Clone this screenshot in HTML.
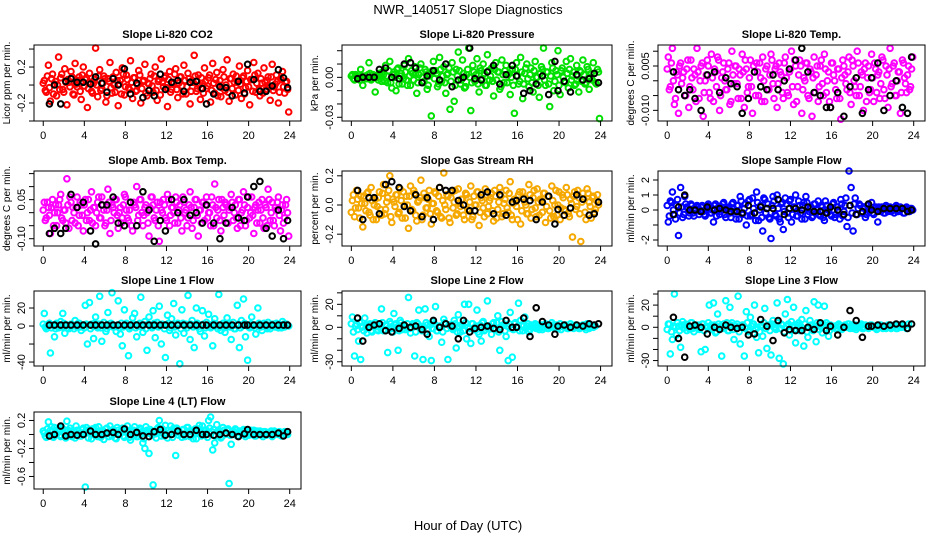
<!DOCTYPE html>
<html><head><meta charset="utf-8"><style>
body{margin:0;background:#fff}
svg{display:block}
text{font-family:"Liberation Sans",sans-serif}
</style></head><body>
<svg id="chart" width="936" height="540" viewBox="0 0 936 540" xmlns="http://www.w3.org/2000/svg">
<text x="468" y="14" text-anchor="middle" font-size="13">NWR_140517  Slope Diagnostics</text>
<text x="468" y="530" text-anchor="middle" font-size="13">Hour of Day (UTC)</text>
</svg>
<script>
const hours = [0.1,0.3,0.5,0.7,0.9,1.1,1.3,1.5,1.7,1.9,2.1,2.3,2.5,2.7,2.9,3.1,3.3,3.5,3.7,3.9,4.1,4.3,4.5,4.7,4.9,5.1,5.3,5.5,5.7,5.9,6.1,6.3,6.5,6.7,6.9,7.1,7.3,7.5,7.7,7.9,8.1,8.3,8.5,8.7,8.9,9.1,9.3,9.5,9.7,9.9,10.1,10.3,10.5,10.7,10.9,11.1,11.3,11.5,11.7,11.9,12.1,12.3,12.5,12.7,12.9,13.1,13.3,13.5,13.7,13.9,14.1,14.3,14.5,14.7,14.9,15.1,15.3,15.5,15.7,15.9,16.1,16.3,16.5,16.7,16.9,17.1,17.3,17.5,17.7,17.9,18.1,18.3,18.5,18.7,18.9,19.1,19.3,19.5,19.7,19.9,20.1,20.3,20.5,20.7,20.9,21.1,21.3,21.5,21.7,21.9,22.1,22.3,22.5,22.7,22.9,23.1,23.3,23.5,23.7,23.9];
const hours2 = [0.0,0.2,0.4,0.6,0.8,1.0,1.2,1.4,1.6,1.8,2.0,2.2,2.4,2.6,2.8,3.0,3.2,3.4,3.6,3.8,4.0,4.2,4.4,4.6,4.8,5.0,5.2,5.4,5.6,5.8,6.0,6.2,6.4,6.6,6.8,7.0,7.2,7.4,7.6,7.8,8.0,8.2,8.4,8.6,8.8,9.0,9.2,9.4,9.6,9.8,10.0,10.2,10.4,10.6,10.8,11.0,11.2,11.4,11.6,11.8,12.0,12.2,12.4,12.6,12.8,13.0,13.2,13.4,13.6,13.8,14.0,14.2,14.4,14.6,14.8,15.0,15.2,15.4,15.6,15.8,16.0,16.2,16.4,16.6,16.8,17.0,17.2,17.4,17.6,17.8,18.0,18.2,18.4,18.6,18.8,19.0,19.2,19.4,19.6,19.8,20.0,20.2,20.4,20.6,20.8,21.0,21.2,21.4,21.6,21.8,22.0,22.2,22.4,22.6,22.8,23.0,23.2,23.4,23.6,23.8];
const blackHours = [0.6,1.1,1.7,2.2,2.7,3.3,3.9,4.6,5.1,5.7,6.2,6.8,7.3,7.9,8.5,9.1,9.7,10.3,10.8,11.4,11.9,12.5,13.1,13.7,14.3,14.9,15.5,15.9,16.6,17.2,17.8,18.4,19.0,19.6,19.9,20.5,21.1,21.7,22.3,22.9,23.4,23.8];
const xTicks = [0,4,8,12,16,20,24];

const co2 = [0.05,-0.08,0.22,-0.18,0.12,0.01,-0.12,0.31,0.08,-0.05,0.18,-0.22,0.03,0.15,-0.1,0.24,-0.02,0.09,-0.16,0.2,0.06,-0.25,0.13,-0.07,0.02,0.41,-0.13,0.17,-0.04,0.1,-0.19,0.07,0.25,-0.09,0.0,0.14,-0.23,0.05,0.19,-0.11,0.11,-0.03,0.27,-0.15,0.08,-0.06,0.16,-0.2,0.04,0.23,-0.12,0.01,0.12,-0.08,0.2,-0.17,0.06,0.29,-0.02,0.1,-0.24,0.15,-0.05,0.03,0.18,-0.14,0.09,-0.01,0.22,-0.1,0.13,-0.21,0.05,0.33,-0.07,0.11,-0.16,0.02,0.19,-0.04,0.08,-0.19,0.24,-0.09,0.14,0.0,-0.13,0.17,-0.06,0.28,-0.18,0.07,0.12,-0.11,0.03,0.21,-0.15,0.1,-0.03,0.16,-0.22,0.06,0.25,-0.08,0.13,-0.12,0.02,0.19,-0.05,0.09,-0.17,0.23,-0.02,0.11,-0.2,0.07,0.15,-0.09,0.04,-0.3];
const co2Core = [0.02,-0.06,0.1,-0.03,0.07,-0.1,0.04,0.0,-0.05,0.12,-0.08,0.03,0.06,-0.02,0.09,-0.11,0.01,0.05,-0.07,0.11,-0.01,0.08,-0.04,0.03,-0.09,0.06,0.0,0.1,-0.06,0.02,0.07,-0.12,0.04,-0.03,0.09,-0.08,0.05,0.01,-0.1,0.12,-0.02,0.06,-0.05,0.03,0.08,-0.07,0.0,0.11,-0.04,0.05,-0.09,0.02,0.07,-0.01,0.1,-0.06,0.04,-0.11,0.03,0.08,-0.03,0.06,-0.08,0.01,0.12,-0.05,0.02,0.09,-0.1,0.05,-0.02,0.07,-0.07,0.03,0.1,-0.04,0.0,0.08,-0.09,0.04,-0.01,0.11,-0.06,0.02,0.06,-0.12,0.05,-0.03,0.09,0.0,-0.08,0.07,-0.04,0.03,0.1,-0.06,0.01,0.08,-0.1,0.04,-0.02,0.06,-0.07,0.11,0.02,-0.05,0.07,-0.09,0.03,0.05,-0.03,0.09,-0.06,0.01,0.04,-0.08,0.06,-0.02,0.03,-0.05];
const co2Black = [-0.21,0.0,-0.21,0.04,0.07,0.03,0.03,0.01,0.09,0.02,-0.08,0.07,0.0,0.18,-0.1,0.02,-0.14,-0.06,-0.12,0.12,-0.05,0.03,0.05,-0.07,0.03,0.04,-0.04,-0.21,-0.1,-0.02,-0.03,-0.12,0.04,-0.09,0.23,0.06,-0.07,-0.07,-0.01,0.17,0.08,-0.03];
const pres = [0.002,-0.002,0.001,0.000,0.006,-0.006,0.001,-0.001,0.011,-0.002,0.002,-0.011,0.0,0.003,-0.003,0.002,0.009,-0.004,0.012,-0.008,0.004,-0.01,0.007,0.001,-0.005,0.009,-0.002,0.014,-0.006,0.003,0.008,-0.012,0.002,0.01,-0.004,0.006,-0.009,0.001,-0.029,0.012,0.005,-0.007,0.015,-0.003,0.008,-0.012,0.003,-0.024,0.011,-0.018,0.006,0.019,-0.005,0.013,-0.008,0.002,0.022,-0.025,0.009,-0.003,0.014,-0.011,0.005,0.01,-0.006,0.017,-0.002,0.007,-0.014,0.011,0.004,-0.009,0.013,-0.004,0.009,0.002,-0.013,0.006,-0.027,0.011,-0.005,0.015,-0.016,0.003,0.01,-0.007,0.007,-0.011,0.012,0.0,-0.015,0.008,0.022,-0.006,0.004,-0.022,0.011,-0.01,0.005,0.02,-0.013,0.007,-0.003,0.012,-0.008,0.014,0.001,-0.006,0.009,-0.011,0.004,0.013,-0.005,0.008,-0.009,0.003,0.011,-0.004,0.006,-0.031];
const presCore = [0.001,-0.001,0.002,0.0,-0.002,0.001,0.0,-0.001,0.002,0.003,-0.001,0.0,0.001,-0.002,0.002,0.004,-0.003,0.001,0.005,-0.004,0.002,0.0,0.006,-0.005,0.003,-0.001,0.004,-0.006,0.001,0.005,-0.002,0.003,-0.004,0.007,0.0,-0.003,0.004,-0.006,0.002,0.005,-0.001,0.003,-0.005,0.006,0.001,-0.004,0.002,0.007,-0.003,0.004,-0.006,0.001,0.005,-0.002,0.003,-0.007,0.006,0.0,-0.004,0.004,0.002,-0.005,0.007,-0.001,0.003,-0.006,0.005,0.001,-0.003,0.006,-0.002,0.004,-0.007,0.002,0.005,-0.004,0.003,0.0,-0.006,0.006,0.001,-0.003,0.004,-0.005,0.007,-0.001,0.002,-0.004,0.005,0.0,-0.006,0.003,0.006,-0.002,0.004,-0.005,0.001,0.007,-0.003,0.002,-0.006,0.005,0.0,-0.004,0.003,0.006,-0.002,0.004,-0.005,0.001,0.005,-0.003,0.002,-0.004,0.006,0.0,-0.002,0.003,-0.005,0.004];
const presBlack = [-0.001,0.0,0.0,0.0,0.006,0.007,0.0,-0.001,0.01,0.011,0.007,-0.004,0.001,0.005,-0.002,0.01,-0.007,-0.002,0.0,0.022,-0.001,-0.002,0.004,0.009,-0.005,0.002,0.009,0.001,-0.012,-0.01,-0.005,0.001,-0.013,0.012,-0.01,-0.003,-0.011,0.002,-0.002,-0.001,0.003,-0.004];
const ltemp = [0.008,-0.002,0.011,-0.008,0.003,-0.011,0.006,0.001,-0.005,0.004,-0.009,0.007,-0.003,0.002,0.011,-0.006,0.005,-0.012,0.0,0.007,-0.004,0.009,-0.007,0.003,0.008,-0.01,0.001,0.006,-0.003,0.004,-0.008,0.01,-0.001,0.005,-0.006,0.002,0.009,-0.009,0.004,-0.002,0.007,-0.011,0.003,0.006,-0.005,0.001,0.008,-0.007,0.005,-0.003,0.009,-0.001,0.004,-0.009,0.006,0.002,-0.006,0.008,-0.004,0.003,0.01,-0.008,0.005,-0.002,0.007,-0.011,0.001,0.006,-0.005,0.004,-0.012,0.008,0.002,-0.007,0.005,-0.001,0.009,-0.004,0.003,-0.009,0.006,0.0,-0.006,0.004,-0.013,0.007,0.002,-0.003,0.008,-0.008,0.005,-0.002,0.01,-0.005,0.003,-0.01,0.006,0.001,-0.004,0.009,-0.007,0.004,0.002,-0.006,0.008,-0.003,0.005,-0.009,0.011,-0.001,0.006,-0.005,0.003,-0.011,0.007,0.001,-0.004,0.005,-0.002,0.008];
const ltempCore = [0.004,-0.003,0.006,0.0,-0.006,0.002,0.005,-0.001,0.003,-0.005,0.007,-0.002,0.001,0.004,-0.007,0.003,0.0,0.006,-0.004,0.002,0.005,-0.006,0.001,0.004,-0.002,0.007,-0.005,0.003,0.0,-0.003,0.006,-0.007,0.002,0.005,-0.001,0.004,-0.006,0.003,0.007,-0.004,0.001,-0.002,0.005,-0.005,0.003,0.006,-0.007,0.0,0.004,-0.003,0.002,0.007,-0.006,0.005,-0.001,0.003,-0.004,0.006,0.001,-0.005,0.004,-0.002,0.007,-0.007,0.002,0.005,-0.003,0.0,0.006,-0.006,0.003,0.001,-0.004,0.005,-0.002,0.007,-0.005,0.004,0.0,-0.007,0.006,0.002,-0.003,0.004,-0.006,0.001,0.005,-0.001,0.003,-0.004,0.007,0.0,-0.005,0.006,-0.002,0.002,0.004,-0.007,0.005,-0.003,0.001,0.006,-0.004,0.003,-0.001,0.007,-0.006,0.002,0.004,-0.002,0.005,-0.005,0.0,0.003,-0.004,0.006,-0.001,0.002,-0.003,0.004];
const ltempBlack = [0.003,-0.003,-0.005,-0.003,-0.006,-0.01,0.002,0.003,-0.004,0.001,-0.001,-0.002,-0.011,-0.006,0.003,-0.002,-0.003,0.002,-0.003,0.0,0.004,0.007,0.011,0.003,-0.004,-0.005,-0.009,-0.009,-0.004,-0.012,-0.002,0.001,-0.011,-0.003,0.001,0.006,-0.010,-0.005,0.0,-0.009,-0.011,0.008];
const amb = [0.04,-0.02,0.02,-0.08,0.05,0.0,-0.05,0.03,0.07,-0.03,0.01,0.13,-0.06,0.04,0.02,-0.04,0.06,-0.01,0.03,-0.07,0.05,0.0,-0.03,0.08,0.02,-0.05,0.04,-0.02,0.06,0.01,-0.04,0.09,-0.08,0.03,0.0,0.05,-0.06,0.02,-0.02,0.07,0.01,-0.03,0.04,-0.07,0.03,0.1,-0.01,0.05,-0.05,0.02,0.0,-0.09,0.06,0.03,-0.03,0.04,-0.11,0.01,0.05,-0.02,0.07,-0.05,0.02,0.0,0.06,-0.04,0.03,-0.07,0.04,0.01,-0.02,0.08,-0.06,0.02,0.05,-0.09,0.01,0.04,-0.03,0.06,0.0,-0.05,0.03,0.11,-0.02,0.05,-0.07,0.02,0.04,-0.04,0.01,0.07,-0.03,0.03,-0.06,0.05,0.0,0.08,-0.05,0.02,-0.02,0.06,-0.08,0.03,0.01,-0.04,0.05,-0.06,0.02,0.09,-0.03,0.04,-0.05,0.01,0.06,-0.07,0.03,-0.02,0.05,-0.09];
const ambCore = [0.01,-0.03,0.04,-0.01,0.02,-0.05,0.03,0.0,0.05,-0.02,0.01,-0.04,0.03,0.06,-0.03,0.0,0.02,-0.05,0.04,-0.01,0.03,-0.03,0.05,0.01,-0.04,0.02,0.0,0.06,-0.02,0.03,-0.05,0.01,0.04,-0.03,0.02,0.05,-0.01,0.0,-0.04,0.03,0.06,-0.02,0.01,-0.05,0.04,0.02,-0.03,0.05,0.0,-0.01,0.03,-0.04,0.02,0.06,-0.02,0.01,-0.05,0.04,0.0,0.03,-0.03,0.05,-0.01,0.02,-0.04,0.04,0.01,-0.02,0.06,0.0,-0.05,0.03,0.02,-0.03,0.05,-0.01,0.01,-0.04,0.04,0.03,-0.02,0.0,0.06,-0.05,0.02,0.01,-0.03,0.05,-0.01,0.03,-0.04,0.02,0.04,0.0,-0.02,0.05,-0.05,0.01,0.03,-0.03,0.06,0.0,-0.01,0.02,-0.04,0.04,0.01,-0.02,0.03,-0.05,0.05,0.0,-0.03,0.02,0.04,-0.01,0.01,-0.04,0.03,0.0];
const ambBlack = [-0.08,-0.06,-0.08,-0.06,0.07,0.02,0.04,-0.07,-0.12,0.03,0.03,0.06,-0.04,-0.05,0.04,-0.05,0.08,0.01,-0.11,-0.03,-0.07,0.05,0.0,0.05,-0.01,0.0,-0.04,0.03,-0.04,-0.1,-0.04,0.02,-0.02,-0.03,0.06,0.1,0.12,-0.06,-0.09,0.01,-0.1,-0.03];
const rh = [0.03,-0.08,0.1,-0.02,0.06,-0.15,0.01,0.08,-0.05,0.12,-0.1,0.04,-0.01,0.09,-0.07,0.14,-0.03,0.05,0.2,-0.12,0.02,0.07,-0.06,0.11,-0.09,0.0,0.06,-0.16,0.13,-0.04,0.08,-0.11,0.03,0.17,-0.07,0.05,-0.02,0.1,-0.13,0.01,0.08,-0.05,0.12,-0.09,0.22,-0.03,0.06,-0.12,0.09,0.02,-0.07,0.11,-0.01,0.04,-0.1,0.07,-0.04,0.13,-0.08,0.0,0.09,-0.14,0.05,-0.02,0.11,-0.06,0.03,0.08,-0.11,0.06,-0.03,0.12,-0.08,0.01,0.1,-0.05,0.16,-0.1,0.04,-0.01,0.07,-0.13,0.09,0.02,-0.06,0.14,-0.09,0.05,-0.02,0.11,-0.07,0.03,0.08,-0.12,0.06,-0.04,0.13,-0.08,0.1,0.0,-0.1,0.07,-0.03,0.12,-0.06,0.04,-0.22,0.09,-0.01,0.05,-0.25,0.08,-0.05,0.11,0.02,-0.09,0.06,-0.03,0.07];
const rhCore = [-0.05,0.07,-0.02,0.04,-0.09,0.01,0.06,-0.04,0.09,-0.07,0.03,0.0,-0.1,0.05,-0.03,0.08,-0.06,0.02,0.1,-0.08,0.04,-0.01,0.07,-0.05,0.03,0.09,-0.09,0.0,0.06,-0.03,0.1,-0.07,0.02,0.05,-0.1,0.08,-0.02,0.04,-0.06,0.01,0.09,-0.04,0.06,-0.08,0.03,0.0,0.07,-0.09,0.05,-0.02,0.1,-0.06,0.01,0.04,-0.07,0.08,-0.03,0.02,-0.1,0.06,0.0,0.09,-0.05,0.03,-0.08,0.07,-0.01,0.05,-0.04,0.1,-0.09,0.02,0.06,-0.06,0.04,-0.02,0.08,-0.07,0.01,0.03,-0.1,0.09,-0.04,0.05,0.0,-0.06,0.07,-0.03,0.1,-0.08,0.02,0.04,-0.05,0.08,-0.01,0.06,-0.09,0.03,0.0,-0.07,0.09,-0.02,0.05,-0.04,0.07,-0.08,0.01,0.06,-0.03,0.1,-0.06,0.02,0.04,-0.1,0.08,-0.01,0.05,-0.05,0.03,0.0];
const rhBlack = [0.1,-0.1,0.05,0.05,-0.06,0.14,0.16,0.12,-0.01,-0.04,0.07,-0.08,0.05,-0.1,0.12,0.1,0.1,0.03,0.0,-0.04,-0.04,0.07,0.09,-0.06,0.07,-0.07,0.02,0.03,0.04,0.03,-0.1,0.02,0.06,-0.13,-0.03,-0.07,-0.02,0.07,0.04,-0.07,-0.06,0.02];
const samp = [-0.8,0.6,1.2,-0.3,0.3,-1.7,1.5,-0.5,0.9,0.2,-0.4,0.4,-0.2,0.1,0.3,-0.3,0.2,-0.1,-0.4,0.3,0.1,-0.2,-0.8,0.4,0.0,-0.3,0.2,0.5,-0.5,0.1,-0.2,0.4,-0.1,-0.6,0.3,0.9,-0.3,0.1,-1.0,0.6,-0.4,0.8,-0.2,1.2,-0.7,0.3,-1.4,0.7,0.1,-0.5,-1.9,0.9,-0.3,1.0,-0.6,0.4,-1.3,0.8,-0.2,0.6,-0.8,0.2,1.0,-0.4,0.3,-0.6,0.5,0.9,-0.3,0.1,-0.5,0.4,-0.2,0.6,-0.4,0.2,-0.7,0.3,0.0,-0.3,0.4,-0.5,0.2,-0.1,0.7,-0.4,0.3,-1.1,2.6,1.5,-1.4,0.8,-0.3,0.4,-0.2,0.2,-0.5,0.3,-0.1,0.5,-0.3,0.2,-0.8,0.1,0.2,-0.2,0.3,-0.1,0.2,0.0,-0.2,0.3,-0.1,0.2,0.1,-0.2,0.2,-0.1,0.1,0.0];
const sampCore = [0.3,-0.4,0.5,0.0,-0.6,0.7,-0.2,0.2,-0.3,0.4,0.1,-0.2,0.3,-0.4,0.0,0.2,-0.1,0.3,-0.3,0.1,0.4,-0.2,0.0,0.3,-0.4,0.2,-0.1,0.4,-0.3,0.0,0.2,-0.5,0.5,-0.1,0.3,-0.6,0.6,-0.2,0.4,-0.4,0.7,-0.3,0.1,-0.7,0.5,0.0,-0.5,0.8,-0.2,0.4,-0.6,0.3,0.6,-0.4,0.1,-0.8,0.5,-0.1,0.4,-0.5,0.7,-0.3,0.2,-0.4,0.6,-0.2,0.3,-0.6,0.5,-0.1,0.2,-0.4,0.4,0.0,-0.3,0.3,-0.5,0.6,-0.2,0.1,-0.4,0.5,-0.3,0.2,-0.6,0.4,-0.1,0.8,-0.5,0.3,-0.2,0.4,-0.3,0.1,0.3,-0.2,0.2,-0.3,0.1,0.2,-0.2,0.1,0.0,0.2,-0.1,0.1,-0.2,0.2,0.0,-0.1,0.1,0.2,-0.1,0.0,0.1,-0.2,0.1,0.0,-0.1,0.1];
const sampBlack = [-0.3,0.2,1.0,0.0,0.0,-0.1,0.2,0.0,0.1,0.0,-0.1,-0.1,-0.2,0.3,-0.2,0.2,0.1,0.1,0.7,-0.3,0.1,0.1,0.0,0.2,-0.1,-0.1,-0.2,0.2,0.0,-0.3,0.3,-0.3,-0.1,0.4,0.0,-0.1,0.1,0.1,0.1,0.1,-0.1,0.0];
const line1 = [14,-3,2,-30,1,-12,3,-2,5,14,-8,1,-3,2,0,6,-1,3,-5,1,23,-20,26,2,-14,10,-2,33,-17,4,-6,15,2,37,-1,-6,28,-9,-22,18,3,-33,-1,9,14,-12,2,32,-7,5,-27,10,-1,17,-13,4,22,-20,1,-35,12,-5,8,25,-10,3,-42,18,-8,2,34,-15,6,-24,20,1,-6,17,-11,4,13,-2,-22,8,0,35,-5,3,-7,9,1,-15,4,-3,23,-24,6,30,-12,-38,-2,10,1,-9,20,2,-5,3,-1,4,-3,2,0,3,-2,1,5,-1,2,0,1];
const line1Core = [2,-1,0,3,-2,1,-3,2,0,-1,3,1,-2,0,2,-3,1,3,-1,0,-2,2,1,-3,0,3,-1,2,-2,1,0,-3,2,3,-1,0,1,-2,3,-1,2,0,-3,1,2,-2,0,3,-1,1,-3,2,0,-2,3,1,-1,0,2,-3,1,3,-2,0,-1,2,1,-3,3,0,-2,1,2,-1,0,3,-3,1,2,-2,0,1,-1,3,2,-3,0,1,-2,2,3,-1,0,-3,1,2,-2,0,3,1,-1,2,0,-2,1,3,-1,0,2,-3,1,0,2,-1,1,0,-2,2];
const line1Black = [1,1,1,1,1,1,1,1,1,1,1,1,1,1,1,1,1,1,1,1,1,1,1,1,1,1,1,1,1,1,1,1,1,1,1,1,1,1,1,1,1,1];
const line2 = [9,-25,3,-12,-28,1,8,-5,2,-3,1,4,-2,0,16,-3,2,-22,5,-1,12,3,-20,6,-2,1,0,26,-5,3,-25,4,15,-1,-28,16,2,-8,-29,5,18,-3,1,-13,7,3,-28,2,-1,6,-18,11,-4,2,20,-10,20,-14,3,0,15,-6,-12,5,-2,23,1,-6,4,-2,10,-20,5,2,-8,-29,13,-26,3,0,21,6,-3,9,1,-4,2,0,3,1,-2,2,0,3,-1,1,4,0,2,-1,3,1,0,2,-1,3,1,0,2,-1,1,2,0,3,-1,2,0,1];
const line2Core = [3,-4,1,-2,4,0,-3,2,-1,3,-4,1,2,-3,0,4,-2,1,-1,3,-4,2,0,-3,4,1,-2,3,-1,0,2,-4,3,1,-3,0,4,-2,2,-1,3,-3,0,1,-4,4,-1,2,0,-2,3,-4,1,2,-3,4,0,-1,3,-2,1,-4,2,4,-3,0,1,-1,3,-2,4,-4,0,2,-3,1,3,-1,-2,4,0,-3,2,1,-1,3,-2,0,2,-1,1,0,-2,2,1,-1,0,2,-1,1,0,-2,1,2,-1,0,1,-1,2,0,-1,1,2,-2,0,1];
const line2Black = [8,-12,0,2,3,-3,-4,-1,2,0,1,-2,-6,6,0,3,1,-10,6,-4,-1,0,1,-1,-2,6,0,0,8,-8,17,5,2,-6,1,2,0,2,1,3,2,3];
const line3 = [3,-24,-11,30,-7,1,-18,5,2,-3,0,4,-1,2,1,-2,-22,3,-20,0,20,2,22,-5,12,-1,-26,3,24,-3,18,4,-11,1,28,-15,2,-26,14,-4,9,3,20,-9,-23,1,-8,17,-19,2,-25,6,-1,22,-28,3,-33,12,25,-7,5,18,-14,2,-3,7,-17,15,-9,6,-1,23,-13,20,1,-5,19,4,-8,2,0,1,-2,3,1,-1,2,0,3,1,-1,2,0,1,3,-1,2,0,1,2,0,1,-1,2,0,1,-1,2,1,0,2,-1,1,0,2,1,-1,3];
const line3Core = [-2,3,-4,1,0,4,-3,2,-1,3,1,-2,4,-4,0,2,-1,3,-3,1,4,0,-2,2,-4,3,1,-1,0,4,-3,2,-2,1,3,-4,0,2,-1,4,-3,1,3,-2,0,-4,2,4,-1,1,-3,3,0,-2,4,-1,2,-4,1,3,-3,0,2,-2,4,1,-1,3,-4,0,2,-3,1,4,-2,0,3,-1,2,-3,1,0,-1,2,1,-2,0,1,3,-1,2,0,-2,1,2,-1,0,1,-1,2,1,0,-2,1,2,-1,0,1,2,-1,0,1,-1,2,0,1];
const line3Black = [9,-10,-27,1,2,0,-6,0,-2,2,0,-1,0,-7,-6,7,1,-12,6,-5,-2,-3,-3,0,-2,4,-3,1,-7,0,15,6,-9,1,1,2,1,2,3,3,-1,3];
const line4 = [0.02,-0.04,0.18,0.06,-0.02,0.1,0.0,0.04,-0.03,0.08,0.01,0.19,-0.01,0.05,0.0,-0.05,0.06,0.02,-0.02,0.09,-0.75,0.03,0.07,-0.06,0.01,0.1,-0.03,0.05,0.0,-0.07,0.08,0.02,0.12,-0.02,0.04,-0.06,0.06,0.01,0.09,-0.04,0.03,0.0,-0.08,0.05,0.11,-0.03,0.02,0.07,-0.12,-0.2,0.06,-0.27,0.04,-0.72,0.01,0.08,0.2,-0.02,0.05,0.13,-0.05,0.03,0.0,0.09,-0.3,0.06,0.02,-0.04,0.07,0.01,0.1,-0.03,0.05,0.0,-0.06,0.08,0.03,0.12,-0.01,0.06,0.2,0.25,-0.22,-0.12,0.14,0.03,-0.05,0.1,0.0,0.06,-0.7,-0.14,0.04,0.08,-0.02,0.05,0.01,0.07,-0.03,0.04,0.02,0.0,0.06,-0.02,0.03,0.05,0.0,0.04,-0.01,0.03,0.02,-0.03,0.05,0.01,0.0,0.03,-0.02,0.04,0.01];
const line4Core = [0.05,-0.02,0.08,0.0,0.11,-0.04,0.03,0.07,-0.01,0.1,0.02,-0.05,0.06,0.09,-0.03,0.04,0.12,0.0,-0.02,0.07,0.03,0.1,-0.05,0.05,0.08,-0.01,0.02,0.11,-0.04,0.06,0.0,0.09,-0.03,0.04,0.07,-0.05,0.1,0.01,0.05,-0.02,0.08,0.12,-0.04,0.03,0.06,0.0,-0.03,0.09,0.04,-0.06,0.11,0.02,0.07,-0.01,0.05,-0.05,0.1,0.03,0.08,-0.02,0.0,0.06,0.12,-0.04,0.04,0.09,-0.01,0.02,0.07,-0.03,0.1,0.05,0.0,-0.06,0.08,0.03,0.13,-0.02,0.06,0.01,-0.04,0.09,0.04,0.07,-0.02,0.05,0.02,-0.03,0.06,0.01,0.08,-0.01,0.04,0.0,0.06,-0.02,0.03,0.05,0.0,0.04,-0.01,0.06,0.02,-0.02,0.05,0.01,0.03,-0.03,0.04,0.02,0.0,0.05,-0.01,0.03,0.01,0.04,-0.02,0.02,0.03,0.0];
const line4Black = [-0.02,0.0,0.12,-0.02,0.0,-0.01,0.0,0.05,0.0,0.0,0.02,0.03,0.0,0.08,0.0,0.03,-0.02,-0.03,0.04,0.07,-0.01,0.0,0.05,0.0,0.0,0.06,0.0,0.0,-0.01,0.0,0.02,0.0,-0.03,0.01,0.07,0.0,0.0,0.0,0.0,0.02,-0.02,0.04];

const co2Ticks=[-0.4,-0.2,0,0.2,0.4], co2Labels=["","-0.2","","0.2",""];
const presTicks=[-0.03,-0.02,-0.01,0,0.01,0.02], presLabels=["-0.03","","","0.00","",""];
const ltempTicks=[-0.01,-0.005,0,0.005,0.01], ltempLabels=["-0.010","","","0.005",""];
const ambTicks=[-0.1,-0.05,0,0.05,0.1,0.15], ambLabels=["-0.10","","","0.05","",""];
const rhTicks=[-0.2,0,0.2], rhLabels=["-0.2","0.0","0.2"];
const sampTicks=[-2,-1,0,1,2], sampLabels=["-2","","0","1","2"];
const line1Ticks=[-40,-20,0,20], line1Labels=["-40","","0","20"];
const line23Ticks=[-30,-20,-10,0,10,20,30], line23Labels=["-30","","","0","","20",""];
const line4Ticks=[-0.6,-0.4,-0.2,0,0.2], line4Labels=["-0.6","","-0.2","","0.2"];

const NS="http://www.w3.org/2000/svg";
const svg=document.getElementById('chart');
function mk(tag,attrs,parent){const e=document.createElementNS(NS,tag);for(const k in attrs)e.setAttribute(k,attrs[k]);(parent||svg).appendChild(e);return e;}

const cols=[[34,301],[342,612],[658,925]];
const rows=[[45,121],[171,246],[291,366],[412,489]];
const panels=[
 {key:'co2',title:'Slope Li-820 CO2',ylab:'Licor ppm per min.',c:0,r:0,ylim:[-0.40,0.445],color:'#ff0000',vals:co2,core:co2Core,blk:co2Black,ticks:co2Ticks,labels:co2Labels},
 {key:'pressure',title:'Slope Li-820 Pressure',ylab:'kPa per min.',c:1,r:0,ylim:[-0.0328,0.0243],color:'#00e000',vals:pres,core:presCore,blk:presBlack,ticks:presTicks,labels:presLabels},
 {key:'li-temp',title:'Slope Li-820 Temp.',ylab:'degrees C per min.',c:2,r:0,ylim:[-0.0136,0.0121],color:'#ff00ff',vals:ltemp,core:ltempCore,blk:ltempBlack,ticks:ltempTicks,labels:ltempLabels},
 {key:'amb-temp',title:'Slope Amb. Box Temp.',ylab:'degrees C per min.',c:0,r:1,ylim:[-0.128,0.160],color:'#ff00ff',vals:amb,core:ambCore,blk:ambBlack,ticks:ambTicks,labels:ambLabels},
 {key:'rh',title:'Slope Gas Stream RH',ylab:'percent per min.',c:1,r:1,ylim:[-0.281,0.233],color:'#f5a800',vals:rh,core:rhCore,blk:rhBlack,ticks:rhTicks,labels:rhLabels},
 {key:'sample-flow',title:'Slope Sample Flow',ylab:'ml/min per min.',c:2,r:1,ylim:[-2.4,2.6],color:'#0000ff',vals:samp,core:sampCore,blk:sampBlack,ticks:sampTicks,labels:sampLabels},
 {key:'line1',title:'Slope Line 1 Flow',ylab:'ml/min per min.',c:0,r:2,ylim:[-44.4,38.9],color:'#00ffff',vals:line1,core:line1Core,blk:line1Black,ticks:line1Ticks,labels:line1Labels},
 {key:'line2',title:'Slope Line 2 Flow',ylab:'ml/min per min.',c:1,r:2,ylim:[-33.7,31.6],color:'#00ffff',vals:line2,core:line2Core,blk:line2Black,ticks:line23Ticks,labels:line23Labels},
 {key:'line3',title:'Slope Line 3 Flow',ylab:'ml/min per min.',c:2,r:2,ylim:[-34.9,32.7],color:'#00ffff',vals:line3,core:line3Core,blk:line3Black,ticks:line23Ticks,labels:line23Labels},
 {key:'line4',title:'Slope Line 4 (LT) Flow',ylab:'ml/min per min.',c:0,r:3,ylim:[-0.779,0.321],color:'#00ffff',vals:line4,core:line4Core,blk:line4Black,ticks:line4Ticks,labels:line4Labels}
];
const xlim=[-0.9,25.1];

panels.forEach(p=>{
  const [x0,x1]=cols[p.c],[y0,y1]=rows[p.r];
  const g=mk('g',{});
  
  
  const xs=v=>x0+(v-xlim[0])/(xlim[1]-xlim[0])*(x1-x0);
  const ys=v=>y1-(v-p.ylim[0])/(p.ylim[1]-p.ylim[0])*(y1-y0);
  const t=mk('text',{x:(x0+x1)/2,y:y0-7,'text-anchor':'middle','font-size':11,'font-weight':'bold'},g);
  t.textContent=p.title;
  
  
  const yl=mk('text',{x:0,y:0,'text-anchor':'middle','font-size':10,transform:`translate(${x0-24},${(y0+y1)/2}) rotate(-90)`},g);
  yl.textContent=p.ylab;
  
  
  const pts=mk('g',{fill:'none','stroke-width':2},g);
  
  
  const n=Math.min(hours.length,p.vals.length);
  for(let i=0;i<n;i++){
    const c=mk('circle',{cx:xs(hours[i]).toFixed(1),cy:ys(p.vals[i]).toFixed(1),r:2.8,stroke:p.color},pts);
    
    
  }
  const n2=Math.min(hours2.length,p.core.length);
  for(let i=0;i<n2;i++){
    const c=mk('circle',{cx:xs(hours2[i]).toFixed(1),cy:ys(p.core[i]).toFixed(1),r:2.8,stroke:p.color},pts);
    
    
  }
  const bp=mk('g',{fill:'none','stroke-width':2},g);
  
  
  const nb=Math.min(blackHours.length,p.blk.length);
  for(let i=0;i<nb;i++){
    const c=mk('circle',{cx:xs(blackHours[i]).toFixed(1),cy:ys(p.blk[i]).toFixed(1),r:2.8,stroke:'#000'},bp);
    
    
  }
  const fr=mk('rect',{x:x0,y:y0,width:x1-x0,height:y1-y0,fill:'none',stroke:'#000','stroke-width':1},g);
  
  
  const ax=mk('g',{stroke:'#000','stroke-width':1},g);
  
  
  xTicks.forEach(v=>{
    const x=xs(v);
    mk('line',{x1:x,x2:x,y1:y1,y2:y1+5},ax);
    const tl=mk('text',{x:x,y:y1+18,'text-anchor':'middle','font-size':11,stroke:'none',fill:'#000'},ax);
    tl.textContent=v;
    
    
  });
  const ay=mk('g',{stroke:'#000','stroke-width':1},g);
  
  
  p.ticks.forEach((v,i)=>{
    const y=ys(v);
    if(y<y0-1||y>y1+1)return;
    mk('line',{x1:x0-5,x2:x0,y1:y,y2:y},ay);
    if(p.labels[i]){
      const tl=mk('text',{x:0,y:0,'text-anchor':'middle','font-size':11,stroke:'none',fill:'#000',transform:`translate(${x0-9},${y}) rotate(-90)`},ay);
      tl.textContent=p.labels[i];
      
      
    }
  });
});
</script>
</body></html>
